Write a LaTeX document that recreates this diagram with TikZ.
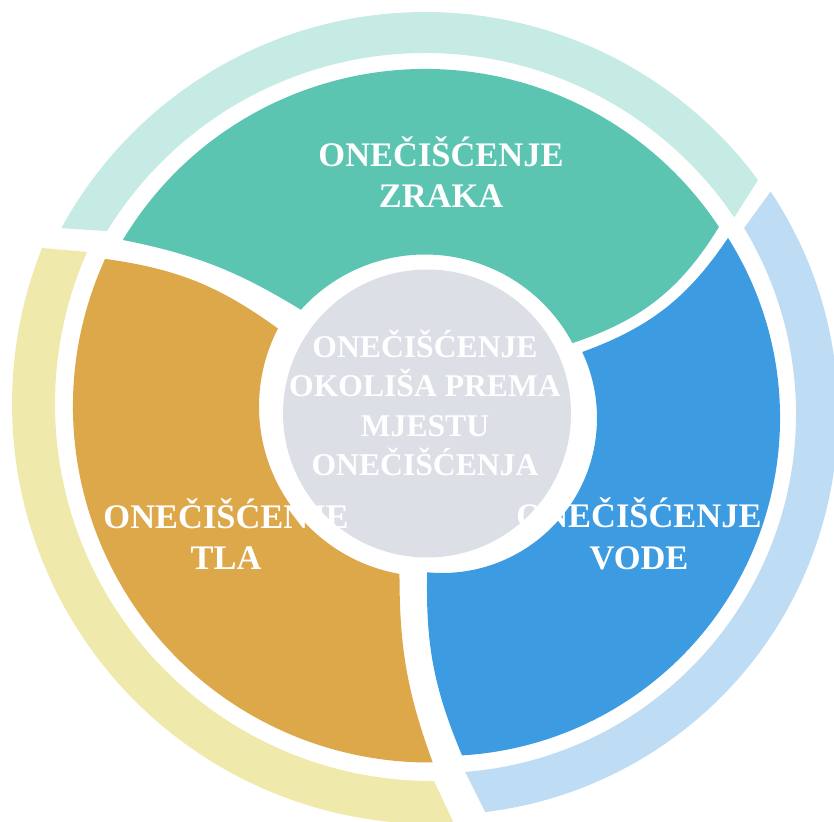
\documentclass[tikz,border=0pt]{standalone}
\usepackage{fontspec}
\setmainfont{Liberation Serif}
\usetikzlibrary{calc}

\begin{document}
\begin{tikzpicture}[x=0.01cm, y=0.01cm,
  lbl/.style={text=white, align=center, inner sep=0pt,
    font=\fontsize{9.8}{11.9}\selectfont\bfseries}]
\definecolor{zrakacol}{HTML}{5BC5B2}
\definecolor{zrakaring}{HTML}{C5EBE4}
\definecolor{tlacol}{HTML}{DCA84A}
\definecolor{tlaring}{HTML}{EFE9AC}
\definecolor{vodecol}{HTML}{3D9BE1}
\definecolor{vodering}{HTML}{BEDDF5}
\definecolor{centercol}{HTML}{DCE0E6}

\useasboundingbox (0,0) rectangle (834,821);

% outer ring
\coordinate (r_z) at (425,395);
\coordinate (r_t) at (432,417);
\coordinate (r_v) at (437,407);
\fill[zrakaring] ($(r_z)+(151.45:414)$) arc[start angle=151.45, end angle=36.45, radius=414]
  -- ($(r_z)+(34:373)$) arc[start angle=34, end angle=148.5, radius=373] -- cycle;
\fill[tlaring] ($(r_t)+(158.2:420)$) arc[start angle=158.2, end angle=273, radius=420]
  -- ($(r_t)+(270.3:377)$) arc[start angle=270.3, end angle=156.2, radius=377] -- cycle;
\fill[vodering] ($(r_v)+(33.7:401)$) arc[start angle=33.7, end angle=-83.1, radius=401]
  -- ($(r_v)+(-85.5:359)$) arc[start angle=-85.5, end angle=31.2, radius=359] -- cycle;

% inner pieces
\coordinate (s_z) at (425,399.5);
\coordinate (s_t) at (429,414.5);
\coordinate (s_v) at (442,403);
\coordinate (z1) at ($(s_z)+(149:352.5)$);
\coordinate (t1) at ($(s_t)+(155.5:356)$);
\coordinate (v1) at ($(s_v)+(32.2:338)$);
\fill[zrakacol] (z1) arc[start angle=149, end angle=33.5, radius=352.5]
  to[bend left=20] ($(s_z)+(28:167)$) arc[start angle=28, end angle=138, radius=167]
  to[bend right=10] (z1) -- cycle;
\fill[tlacol] (t1) arc[start angle=155.5, end angle=270.6, radius=356]
  to[bend left=10] ($(s_t)+(260:170)$) arc[start angle=260, end angle=152.7, radius=170]
  to[bend right=14] (t1) -- cycle;
\fill[vodecol] (v1) arc[start angle=32.2, end angle=-86.6, radius=338]
  to[bend left=12] ($(s_v)+(-95.5:155)$) arc[start angle=-95.5, end angle=25.2, radius=155]
  to[bend right=18] (v1) -- cycle;

% middle
\coordinate (c) at (427,407.5);
\fill[centercol] (c) circle[radius=144];

\node[lbl] (zraka) at (441,649) {ONEČIŠĆENJE\\ZRAKA};
\node[lbl] (tla) at (226,287) {ONEČIŠĆENJE\\TLA};
\node[lbl] (vode) at (639,287) {ONEČIŠĆENJE\\VODE};
\node[lbl, font=\fontsize{9}{11.2}\selectfont\bfseries] (centar) at (425,418)
  {ONEČIŠĆENJE\\OKOLIŠA PREMA\\MJESTU\\ONEČIŠĆENJA};
\end{tikzpicture}
\end{document}
